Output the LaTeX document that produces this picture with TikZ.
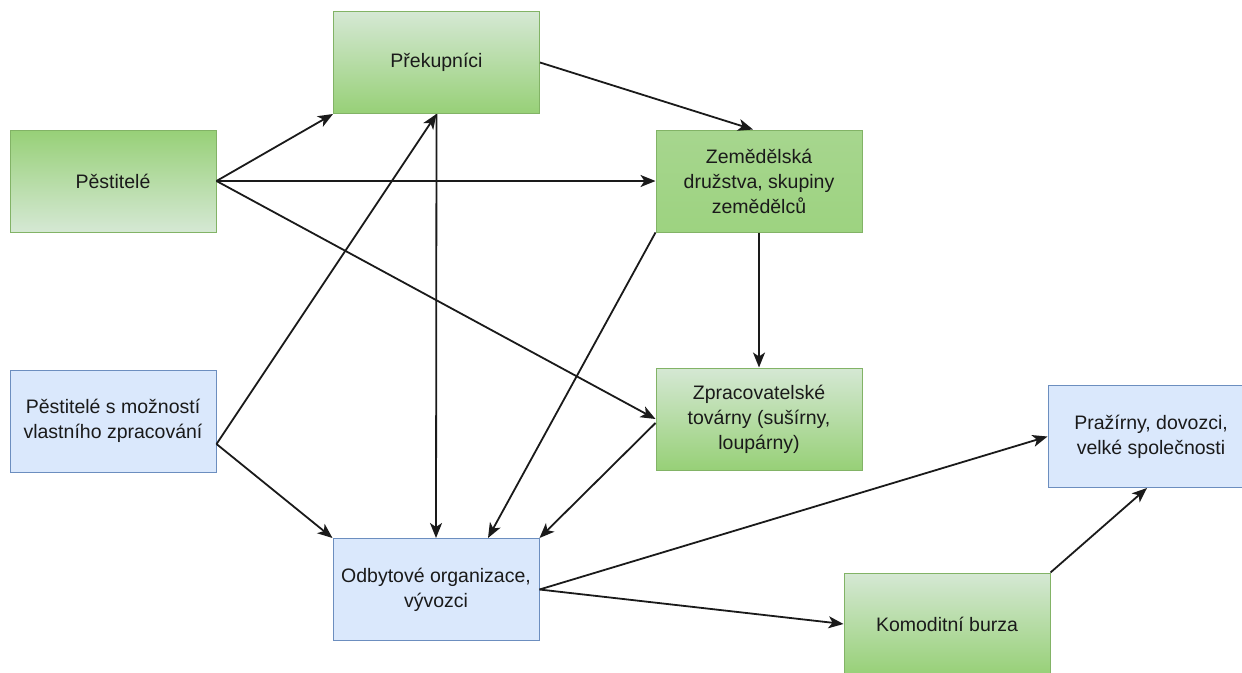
\documentclass[tikz,border=0pt]{standalone}
\usepackage{fontspec}
\setmainfont{Liberation Sans}
\usetikzlibrary{arrows.meta}

\definecolor{gdark}{HTML}{97D077}
\definecolor{glight}{HTML}{D5E8D4}
\definecolor{gline}{HTML}{82B366}
\definecolor{bfill}{HTML}{DAE8FC}
\definecolor{bline}{HTML}{6C8EBF}
\definecolor{ink}{HTML}{1A1A1A}

\begin{document}
\begin{tikzpicture}[x=1pt, y=-1pt,
    box/.style={draw, line width=1pt, minimum width=206pt, minimum height=102pt,
      align=center, text=ink, inner sep=0pt,
      font=\fontsize{19.5}{25}\selectfont},
    greendown/.style={box, draw=gline, top color=gdark, bottom color=glight},
    greenup/.style={box, draw=gline, top color=glight, bottom color=gdark},
    bluebox/.style={box, draw=bline, fill=bfill},
    arr/.style={-{Stealth[length=15pt, width=12pt, inset=4pt]}, line width=1.8pt, ink}]
  \clip (0, 0) rectangle (1242, 672);
  \fill[white] (0, 0) rectangle (1242, 672);

  \node[greendown] (pest) at (113, 181) {Pěstitelé};
  \node[greenup] (prek) at (436.5, 62.5) {Překupníci};
  \node[greenup, top color=gdark!75!glight, bottom color=gdark!90!glight] (zem) at (759, 181) {Zemědělská\\družstva, skupiny\\zemědělců};
  \node[bluebox] (pmoz) at (113, 421) {Pěstitelé s možností\\vlastního zpracování};
  \node[greenup] (zprac) at (759, 419) {Zpracovatelské\\továrny (sušírny,\\loupárny)};
  \node[bluebox] (praz) at (1151, 436.5) {Pražírny, dovozci,\\velké společnosti};
  \node[bluebox] (odbyt) at (436, 589.5) {Odbytové organizace,\\vývozci};
  \node[greenup] (komod) at (947, 624) {Komoditní burza};

  \draw[arr] (pest.east) -- (prek.south west);
  \draw[arr] (pest.east) -- (zem.west);
  \draw[arr] (pest.east) -- (zprac.west);
  \draw[arr] (prek.east) -- ([xshift=-6pt]zem.north);
  \draw[arr] (prek.south) -- (odbyt.north);
  \draw[arr] ([yshift=-23pt]pmoz.east) -- (prek.south);
  \draw[arr] ([yshift=-23pt]pmoz.east) -- (odbyt.north west);
  \draw[arr] (zem.south) -- (zprac.north);
  \draw[arr] (zem.south west) -- ([xshift=52pt]odbyt.north);
  \draw[arr] ([yshift=-4pt]zprac.west) -- (odbyt.north east);
  \draw[arr] (odbyt.east) -- (praz.west);
  \draw[arr] (odbyt.east) -- (komod.west);
  \draw[arr] (komod.north east) -- ([xshift=-4pt]praz.south);
\end{tikzpicture}
\end{document}
